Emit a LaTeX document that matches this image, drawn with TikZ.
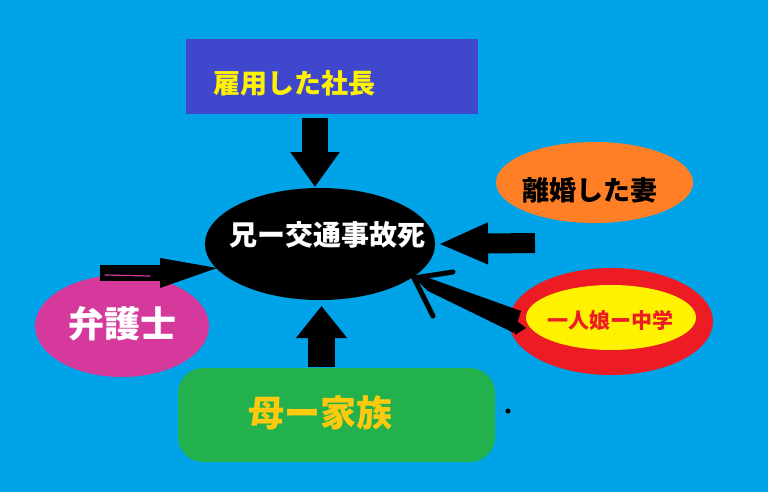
\documentclass[tikz,border=0pt]{standalone}
\usepackage{fontspec}
\newfontfamily\cjk{Noto Sans CJK JP}
\usetikzlibrary{shapes.geometric,arrows.meta}
\definecolor{bgblue}{HTML}{00A2E8}
\definecolor{indigo}{HTML}{3F48CC}
\definecolor{pyellow}{HTML}{FFF200}
\definecolor{porange}{HTML}{FF7F27}
\definecolor{pred}{HTML}{ED1C24}
\definecolor{ppink}{HTML}{D6399C}
\definecolor{pgreen}{HTML}{22B14C}
\definecolor{pgold}{HTML}{FFC90E}
\tikzset{
  shapebox/.style={inner sep=0pt, outer sep=0pt, draw=none},
  lbl/.style={inner sep=0pt, font=\cjk\bfseries},
  blockarrow/.style={draw=black, line cap=butt}
}
\begin{document}
\begin{tikzpicture}[x=1pt,y=-1pt]
\useasboundingbox (0,0) rectangle (768,492);
\fill[bgblue] (0,0) rectangle (768,492);

% shapes
\node[shapebox, rectangle, fill=indigo, minimum width=292pt, minimum height=75pt] (boss) at (332,76.5) {};
\node[shapebox, ellipse, fill=black, minimum width=230pt, minimum height=112pt] (death) at (320,244) {};
\node[shapebox, ellipse, fill=porange, minimum width=197pt, minimum height=81pt] (wife) at (594.5,182.5) {};
\node[shapebox, ellipse, fill=pred, minimum width=204pt, minimum height=107pt] (daughter) at (611,321.5) {};
\node[shapebox, ellipse, fill=pyellow, minimum width=170pt, minimum height=65pt] (daughterin) at (611,317.5) {};
\node[shapebox, ellipse, fill=ppink, minimum width=174pt, minimum height=102pt] (lawyer) at (122,326) {};
\node[shapebox, rectangle, rounded corners=25pt, fill=pgreen, minimum width=317pt, minimum height=94pt] (family) at (336.5,415) {};

% labels
\node[lbl, text=pyellow, font=\cjk\bfseries\fontsize{27}{27}\selectfont] (bosslbl) at (294,83) {雇用した社長};
\node[lbl, text=white, font=\cjk\bfseries\fontsize{28}{28}\selectfont] (deathlbl) at (327,235) {兄ー交通事故死};
\node[lbl, text=black, font=\cjk\bfseries\fontsize{27}{27}\selectfont] (wifelbl) at (590,190) {離婚した妻};
\node[lbl, text=pred, font=\cjk\bfseries\fontsize{21}{21}\selectfont] (daughterlbl) at (610,320) {一人娘ー中学};
\node[lbl, text=white, font=\cjk\bfseries\fontsize{36}{36}\selectfont] (lawyerlbl) at (122,324) {弁護士};
\node[lbl, text=pgold, font=\cjk\bfseries\fontsize{36}{36}\selectfont] (familylbl) at (320,413) {母ー家族};

% connector end points
\coordinate (bossout) at (315,118);
\coordinate (deathtop) at (315,187);
\coordinate (wifeout) at (535,243);
\coordinate (deathright) at (438,244);
\coordinate (familyout) at (321.5,367);
\coordinate (deathbottom) at (321.5,306);
\coordinate (lawyerout) at (100,273);
\coordinate (lawyerhead) at (160,273);
\coordinate (deathleft) at (217,268);
\coordinate (deathlowright) at (414,278);
\coordinate (barbA) at (453,272);
\coordinate (barbB) at (433,316);
\coordinate (daughtertop) at (521,311);
\coordinate (daughterbot) at (514,333);

% block arrows
\draw[blockarrow, line width=26pt, -{Triangle[width=47pt,length=35pt]}] (bossout) -- (deathtop);
\draw[blockarrow, line width=20pt, -{Triangle[width=38pt,length=50pt]}] (wifeout) -- (deathright);
\draw[blockarrow, line width=27pt, -{Triangle[width=49pt,length=32pt]}] (familyout) -- (deathbottom);

% hand-drawn lawyer arrow
\draw[blockarrow, line width=16pt] (lawyerout) -- (lawyerhead);
\fill[black] (lawyerhead |- 0,258) -- (deathleft) -- (lawyerhead |- 0,288) -- cycle;
\draw[ppink, line width=1.2pt, line cap=round] (105,275) -- (150,276);

% hand-drawn daughter arrow
\fill[black] (deathlowright) -- (426,277) -- (daughtertop) -- (daughterbot) -- (428,291) -- cycle;
\draw[black, line width=5pt, line cap=round] (barbA) -- (deathlowright) -- (barbB);
\fill[black] (513,318) -- (526,328) -- (515,335) -- cycle;

% stray dot
\fill[black] (508,411) circle (2.5pt);
\end{tikzpicture}
\end{document}
